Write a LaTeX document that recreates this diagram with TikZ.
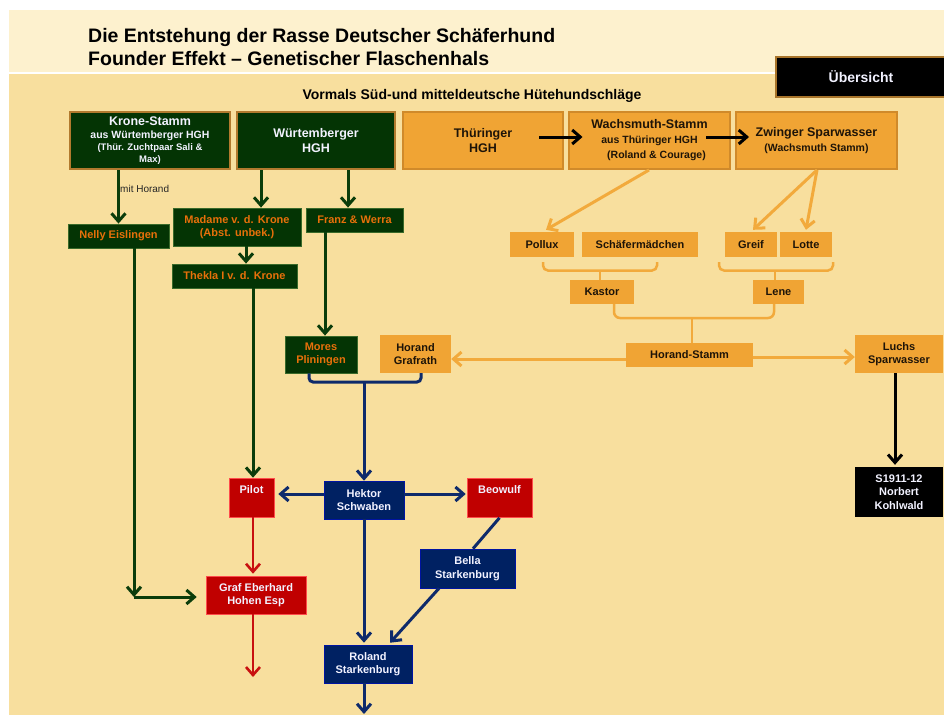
\documentclass[tikz,border=0pt]{standalone}
\usepackage{fontspec}
\setmainfont{Liberation Sans}
\usetikzlibrary{arrows.meta}
\definecolor{bgmain}{HTML}{F8DF9E}
\definecolor{bghead}{HTML}{FDF1CE}
\definecolor{gfill}{HTML}{043404}
\definecolor{gborder}{HTML}{B27A2E}
\definecolor{gline}{HTML}{0B3D0B}
\definecolor{gthin}{HTML}{3A6A2A}
\definecolor{gtext}{HTML}{E8700A}
\definecolor{ofill}{HTML}{F0A434}
\definecolor{oborder}{HTML}{D08A2A}
\definecolor{oline}{HTML}{F2AA3C}
\definecolor{otext}{HTML}{1E1408}
\definecolor{rfill}{HTML}{C00000}
\definecolor{rline}{HTML}{C81010}
\definecolor{nfill}{HTML}{002162}
\definecolor{nline}{HTML}{0E2A6B}
\definecolor{wtext}{HTML}{F2F2FF}
\definecolor{ubord}{HTML}{A8742A}
\begin{document}
\begin{tikzpicture}[x=1pt,y=-1pt,
  sz/.style 2 args={minimum width=#1pt,minimum height=#2pt},
  box/.style={inner sep=0pt,align=center,font=\bfseries\fontsize{11}{13.5}\selectfont},
  gtop/.style={box,fill=gfill,draw=gborder,line width=2pt,text=wtext},
  gsmall/.style={box,fill=gfill,draw=gthin,line width=0.8pt,text=gtext},
  otop/.style={box,fill=ofill,draw=oborder,line width=2pt,text=otext},
  osmall/.style={box,fill=ofill,text=otext},
  rbox/.style={box,fill=rfill,draw=red!70!white,line width=0.6pt,text=wtext},
  nbox/.style={box,fill=nfill,draw=blue!40!nfill,line width=0.6pt,text=wtext},
  kbox/.style={box,fill=black,text=wtext},
  big/.style={font=\bfseries\fontsize{12.5}{14.5}\selectfont},
  barb/.style={-{Straight Barb[length=8pt,width=14pt]}},
  gcon/.style={draw=gline,line width=3pt},
  ocon/.style={draw=oline,line width=3pt},
  ncon/.style={draw=nline,line width=3pt},
  rcon/.style={draw=rline,line width=2.6pt},
  kcon/.style={draw=black,line width=3pt},
]
\useasboundingbox (0,0) rectangle (944,715);
\fill[white] (0,0) rectangle (944,715);
\fill[bgmain] (9,73) rectangle (944,715);
\fill[bghead] (9,10) rectangle (944,73);
\draw[white,line width=1.5pt] (9,73) -- (944,73);

% titles
\node[anchor=west,align=left,inner sep=0pt,font=\bfseries\fontsize{19.5}{23}\selectfont] (title) at (88,47.5)
  {Die Entstehung der Rasse Deutscher Schäferhund\\Founder Effekt – Genetischer Flaschenhals};
\node[kbox,draw=ubord,line width=2pt,sz={170}{40},font=\bfseries\fontsize{14}{16}\selectfont] (ueber) at (861,77) {Übersicht};
\node[inner sep=0pt,font=\bfseries\fontsize{14}{16}\selectfont] (vormals) at (472,96) {Vormals Süd-und mitteldeutsche Hütehundschläge};

% top row
\node[gtop,sz={160}{57}] (krone) at (150,140.5)
  {{\fontsize{12.5}{14}\selectfont Krone-Stamm}\\[0pt]{\fontsize{10.5}{13}\selectfont aus Würtemberger HGH}\\[-1.5pt]{\fontsize{9.5}{12}\selectfont (Thür. Zuchtpaar Sali \&}\\[-1.5pt]{\fontsize{9.5}{12}\selectfont Max)}};
\node[gtop,big,sz={158}{57}] (wuert) at (316,140.5) {Würtemberger\\HGH};
\node[otop,big,sz={160}{57}] (thue) at (483,140.5) {Thüringer\\HGH};
\node[otop,sz={161}{57}] (wachs) at (649.5,140.5)
  {{\fontsize{12.5}{14}\selectfont Wachsmuth-Stamm}\\[1pt]{\fontsize{10.5}{13}\selectfont aus Thüringer HGH}\\[2pt]{\fontsize{10.5}{13}\selectfont \hspace*{14pt}(Roland \& Courage)}};
\node[otop,sz={161}{57}] (zwing) at (816.5,140.5)
  {{\fontsize{12.5}{14}\selectfont Zwinger Sparwasser}\\[2pt]{\fontsize{10.5}{13}\selectfont (Wachsmuth Stamm)}};

% green branch
\node[gsmall,sz={101}{24}] (nelly) at (118.5,236) {Nelly Eislingen};
\node[gsmall,sz={128}{38}] (madame) at (237,227) {Madame v. d. Krone\\(Abst. unbek.)};
\node[gsmall,sz={97}{24}] (franz) at (354.5,220) {Franz \& Werra};
\node[gsmall,sz={125}{24}] (thekla) at (234.5,276) {Thekla I v. d. Krone};
\node[gsmall,sz={72}{37}] (mores) at (321,354.5) {Mores\\Pliningen};
\node[anchor=west,inner sep=0pt,font=\fontsize{10}{12}\selectfont,text=black!85] (mith) at (120,189) {mit Horand};

% orange branch
\node[osmall,sz={64}{25}] (pollux) at (542,244.5) {Pollux};
\node[osmall,sz={116}{25}] (schaef) at (640,244.5) {Schäfermädchen};
\node[osmall,sz={52}{25}] (greif) at (751,244.5) {Greif};
\node[osmall,sz={52}{25}] (lotte) at (806,244.5) {Lotte};
\node[osmall,sz={64}{24}] (kastor) at (602,292) {Kastor};
\node[osmall,sz={51}{24}] (lene) at (778.5,292) {Lene};
\node[osmall,sz={127}{24}] (hstamm) at (689.5,355) {Horand-Stamm};
\node[osmall,sz={71}{38}] (grafrath) at (415.5,354) {Horand\\Grafrath};
\node[osmall,sz={88}{38}] (luchs) at (899,354) {Luchs\\Sparwasser};
\node[kbox,sz={88}{50}] (s1911) at (899,492) {S1911-12\\Norbert\\Kohlwald};

% red / navy
\node[rbox,sz={45}{39}] (pilot) at (251.5,497.5) {Pilot\\[-1pt]\strut};
\node[nbox,sz={80}{38}] (hektor) at (364,500) {Hektor\\Schwaben};
\node[rbox,sz={65}{39}] (beowulf) at (499.5,497.5) {Beowulf\\[-1pt]\strut};
\node[rbox,sz={100}{38}] (graf) at (256,595) {Graf Eberhard\\Hohen Esp};
\node[nbox,sz={95}{39}] (bella) at (467.5,568.5) {Bella\\Starkenburg};
\node[nbox,sz={88}{38}] (roland) at (368,664) {Roland\\Starkenburg};
\coordinate (nellycorner) at (134,597);
\coordinate (grafdown) at (253,677);
\coordinate (rolanddown) at (364,714);

% green connectors
\draw[gcon,barb] (krone.south -| nelly.north) -- (nelly.north);
\draw[gcon,barb] ([shift={(-55,0)}]wuert.south) -- ([shift={(24,0)}]madame.north);
\draw[gcon,barb] ([shift={(32,0)}]wuert.south) -- ([shift={(-6.5,0)}]franz.north);
\draw[gcon,barb] ([shift={(9,0)}]madame.south) -- ([shift={(11.5,0)}]thekla.north);
\draw[gcon,barb] ([shift={(18.5,0)}]thekla.south) -- ([shift={(1.5,0)}]pilot.north);
\draw[gcon,barb] ([shift={(-29.5,0)}]franz.south) -- ([shift={(4,0)}]mores.north);
\draw[gcon,barb] (nelly.south -| nellycorner) -- (nellycorner);
\draw[gcon,barb] (nellycorner) -- ([shift={(-9,2)}]graf.west);

% black connectors
\draw[kcon,barb] ([shift={(56,-3.5)}]thue.center) -- ([shift={(-67,-3.5)}]wachs.center);
\draw[kcon,barb] ([shift={(56.5,-3.5)}]wachs.center) -- ([shift={(-67.5,-3.5)}]zwing.center);
\draw[kcon,barb] ([shift={(-4,0)}]luchs.south) -- ([shift={(-4,-2)}]s1911.north);

% orange connectors
\draw[ocon,barb] ([shift={(-0.5,0)}]wachs.south) -- ([shift={(4,-2)}]pollux.north);
\draw[ocon,barb] ([shift={(0.5,0)}]zwing.south) -- ([shift={(2,-2)}]greif.north);
\draw[ocon,barb] ([shift={(0.5,0)}]zwing.south) -- ([shift={(0,-2)}]lotte.north);
\draw[ocon,line width=2.5pt,rounded corners=5pt] (543,262) -- (543,270.5) -- (657,270.5) -- (657,262);
\draw[ocon,line width=2.5pt] (600,270.5) -- ([shift={(-2,0)}]kastor.north);
\draw[ocon,line width=2.5pt,rounded corners=5pt] (719,262) -- (719,270.5) -- (833,270.5) -- (833,262);
\draw[ocon,line width=2.5pt] (775,270.5) -- ([shift={(-3.5,0)}]lene.north);
\draw[ocon,line width=2.5pt,rounded corners=6pt] ([shift={(12,0)}]kastor.south) -- (614,318) -- (774,318) -- ([shift={(-4.5,0)}]lene.south);
\draw[ocon,line width=2.5pt] (692,318) -- ([shift={(2.5,0)}]hstamm.north);
\draw[ocon,barb] ([shift={(0,4)}]hstamm.west) -- ([shift={(0,5)}]grafrath.east);
\draw[ocon,barb] ([shift={(0,2)}]hstamm.east) -- ([shift={(0,3)}]luchs.west);

% navy connectors
\draw[ncon,rounded corners=4pt] ([shift={(-12,0)}]mores.south) -- (309,382) -- (421,382) -- ([shift={(5.5,0)}]grafrath.south);
\draw[ncon,barb] (364,382) -- (hektor.north);
\draw[ncon,barb] ([shift={(0,-6)}]hektor.west) -- ([shift={(4,-3.5)}]pilot.east);
\draw[ncon,barb] ([shift={(0,-6)}]hektor.east) -- ([shift={(-1,-3.5)}]beowulf.west);
\draw[ncon,barb] (hektor.south) -- ([shift={(-4,-2)}]roland.north);
\draw[ncon] ([shift={(0,0.5)}]beowulf.south) -- ([shift={(5.5,0)}]bella.north);
\draw[ncon,barb] ([shift={(-28.5,0)}]bella.south) -- ([shift={(22,-2)}]roland.north);
\draw[ncon,barb] ([shift={(-4,0)}]roland.south) -- (rolanddown);

% red connectors
\draw[rcon,barb] ([shift={(1.5,0)}]pilot.south) -- ([shift={(-3,-2)}]graf.north);
\draw[rcon,barb] ([shift={(-3,0)}]graf.south) -- (grafdown);
\end{tikzpicture}
\end{document}
